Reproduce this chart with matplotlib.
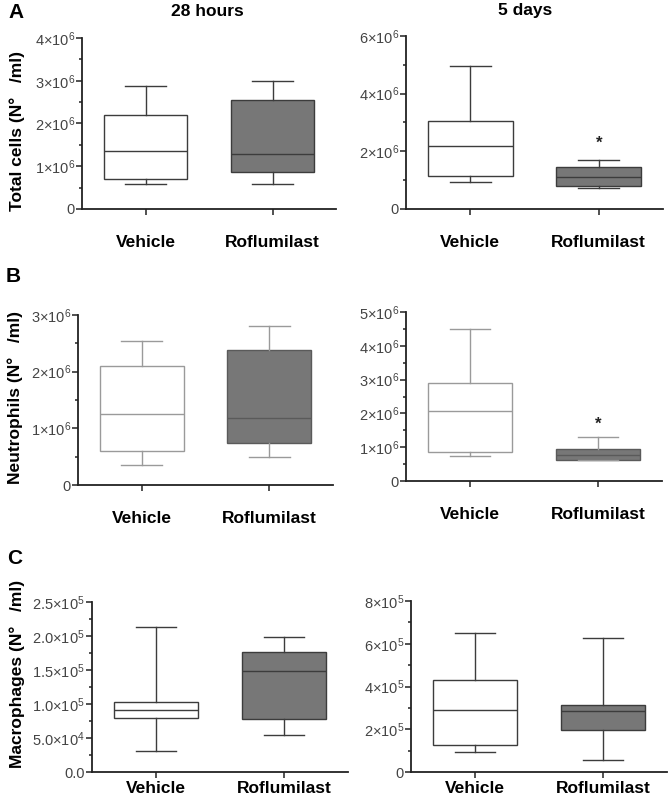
import matplotlib
matplotlib.use('Agg')
import matplotlib.pyplot as plt
from matplotlib.ticker import FixedLocator, MultipleLocator

plt.rcParams['font.family'] = ['Liberation Sans', 'DejaVu Sans']
plt.rcParams['mathtext.fontset'] = 'custom'
plt.rcParams['mathtext.rm'] = 'Liberation Sans'
plt.rcParams['mathtext.it'] = 'Liberation Sans:italic'
plt.rcParams['mathtext.bf'] = 'Liberation Sans:bold'

# ── data: box stats [whislo, q1, median, q3, whishi] per group ──────────────
groups = ['Vehicle', 'Roflumilast']

total_28h = [[0.58e6, 0.695e6, 1.36e6, 2.21e6, 2.875e6],
             [0.58e6, 0.87e6, 1.29e6, 2.56e6, 3.00e6]]
total_5d = [[0.92e6, 1.13e6, 2.20e6, 3.05e6, 4.95e6],
            [0.72e6, 0.81e6, 1.10e6, 1.445e6, 1.69e6]]
neut_28h = [[0.352e6, 0.593e6, 1.25e6, 2.10e6, 2.54e6],
            [0.487e6, 0.74e6, 1.18e6, 2.39e6, 2.81e6]]
neut_5d = [[0.727e6, 0.855e6, 2.06e6, 2.90e6, 4.50e6],
           [0.61e6, 0.629e6, 0.776e6, 0.953e6, 1.29e6]]
macro_28h = [[0.314e5, 0.796e5, 0.918e5, 1.03e5, 2.13e5],
             [0.54e5, 0.776e5, 1.478e5, 1.763e5, 1.99e5]]
macro_5d = [[0.934e5, 1.28e5, 2.91e5, 4.30e5, 6.52e5],
            [0.56e5, 1.98e5, 2.86e5, 3.13e5, 6.27e5]]

# significance star heights (5 days, Roflumilast)
star_total_5d = 2.28e6
star_neut_5d = 1.68e6

# y-axis: limits, major tick step
ylim_total_28h, step_total_28h = 4e6, 1e6
ylim_total_5d, step_total_5d = 6e6, 2e6
ylim_neut_28h, step_neut_28h = 3e6, 1e6
ylim_neut_5d, step_neut_5d = 5e6, 1e6
ylim_macro_28h, step_macro_28h = 2.5e5, 0.5e5
ylim_macro_5d, step_macro_5d = 8e5, 2e5

W, H = 671, 805
FILL = '#777777'
DARK = '#3c3c3c'
LIGHT = '#9a9a9a'
TICKC = '#444444'


def sci(v, decimals=0):
    if v == 0:
        return '0.0' if decimals else '0'
    exp = 0
    m = v
    while m >= 10:
        m /= 10
        exp += 1
    while m < 1:
        m *= 10
        exp -= 1
    if exp < 5 and decimals and m < 5:
        m *= 10
        exp -= 1
    return f'{m:.{decimals}f}×10$^{{{exp}}}$'


def panel(rect, data, ymax, step, decimals=0, line=DARK, med_roflu=None,
          star=None, xpad=14):
    l, r, t, b = rect
    ax = fig.add_axes([l / W, 1 - b / H, (r - l) / W, (b - t) / H])
    stats = []
    for name, s in zip(groups, data):
        stats.append(dict(label=name, whislo=s[0], q1=s[1], med=s[2],
                          q3=s[3], whishi=s[4], fliers=[]))
    bp = ax.bxp(stats, positions=[1, 2], widths=0.66, patch_artist=True,
                showfliers=False,
                boxprops=dict(linewidth=1.0, edgecolor=line),
                whiskerprops=dict(linewidth=1.0, color=line),
                capprops=dict(linewidth=1.0, color=line),
                medianprops=dict(linewidth=1.0, color=line),
                capwidths=0.32)
    bp['boxes'][0].set_facecolor('white')
    bp['boxes'][1].set_facecolor(FILL)
    if med_roflu:
        bp['medians'][1].set_color(med_roflu)
        bp['boxes'][1].set_edgecolor(med_roflu)
    if star is not None:
        ax.text(2, star, '*', ha='center', va='center', fontsize=12,
                fontweight='bold', color='#222222')
    ax.set_xlim(0.5, 2.5)
    ax.set_ylim(0, ymax)
    ticks = [i * step for i in range(int(round(ymax / step)) + 1)]
    ax.yaxis.set_major_locator(FixedLocator(ticks))
    ax.yaxis.set_minor_locator(MultipleLocator(step / 2))
    ax.set_yticklabels([sci(v, decimals) for v in ticks])
    for sp in ('top', 'right'):
        ax.spines[sp].set_visible(False)
    for sp in ('left', 'bottom'):
        ax.spines[sp].set_linewidth(1.3)
        ax.spines[sp].set_color('#222222')
    ax.tick_params(axis='y', which='major', length=4, width=1.1,
                   labelsize=10.5, labelcolor=TICKC, pad=1, color='#222222')
    ax.tick_params(axis='y', which='minor', length=2.5, width=1.1,
                   color='#222222')
    ax.tick_params(axis='x', length=4.5, width=1.1, color='#222222',
                   labelsize=12.5, pad=xpad)
    for lbl in ax.get_xticklabels():
        lbl.set_fontweight('bold')
    return ax


fig = plt.figure(figsize=(W / 100, H / 100), dpi=100)

panel((82, 336, 38, 209), total_28h, ylim_total_28h, step_total_28h)
panel((406, 663, 36, 209), total_5d, ylim_total_5d, step_total_5d,
      star=star_total_5d)
panel((78, 333, 315, 485), neut_28h, ylim_neut_28h, step_neut_28h,
      line=LIGHT, med_roflu='#5a5a5a')
panel((406, 662, 312, 481), neut_5d, ylim_neut_5d, step_neut_5d,
      line=LIGHT, med_roflu='#5a5a5a', star=star_neut_5d)
panel((92, 348, 602, 772), macro_28h, ylim_macro_28h, step_macro_28h,
      decimals=1, xpad=2)
panel((411, 667, 601, 772), macro_5d, ylim_macro_5d, step_macro_5d,
      xpad=2)

bold = dict(fontweight='bold', fontsize=12.5, ha='center', va='center')
fig.text(207 / W, 1 - 11 / H, '28 hours', **bold)
fig.text(525 / W, 1 - 11 / H, '5 days', **bold)

fig.text(17 / W, 1 - 131 / H, 'Total cells (N°   /ml)', rotation=90, **bold)
fig.text(15 / W, 1 - 397 / H, 'Neutrophils (N°   /ml)', rotation=90, **bold)
fig.text(17 / W, 1 - 674 / H, 'Macrophages (N°   /ml)', rotation=90, **bold)

letter = dict(fontweight='bold', fontsize=15, ha='center', va='center')
fig.text(16 / W, 1 - 12 / H, 'A', **letter)
fig.text(13 / W, 1 - 276 / H, 'B', **letter)
fig.text(15 / W, 1 - 558 / H, 'C', **letter)

fig.savefig('out.png', dpi=100)
